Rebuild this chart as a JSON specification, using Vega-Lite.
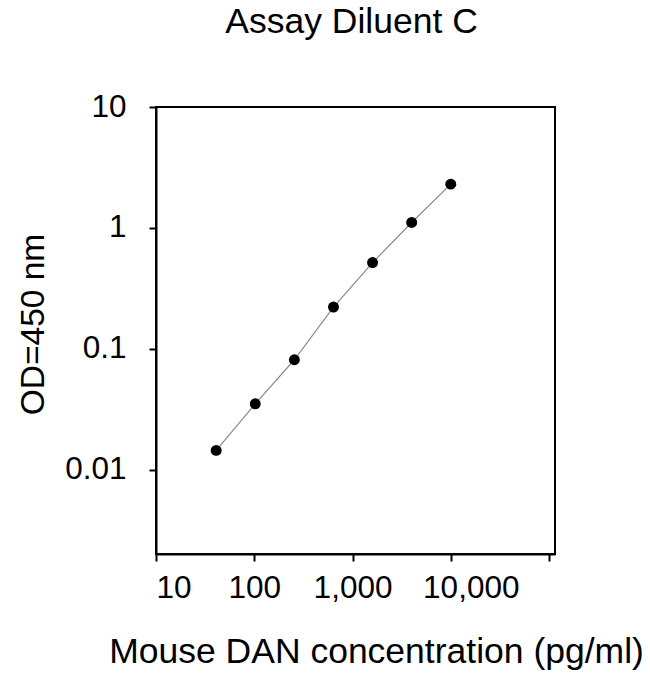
{
  "$schema": "https://vega.github.io/schema/vega-lite/v6.json",
  "autosize": {"type": "none"},
  "padding": {"left": 156, "top": 107, "right": 95, "bottom": 120},
  "width": 399,
  "height": 447,
  "title": {
    "text": "Assay Diluent C",
    "font": "Liberation Sans",
    "fontSize": 35.5,
    "fontWeight": "normal",
    "color": "#000000",
    "baseline": "alphabetic",
    "anchor": "middle",
    "dx": -4,
    "offset": 23
  },
  "data": {
    "values": [
      {"conc": 40.96, "od": 0.0144},
      {"conc": 102.4, "od": 0.035},
      {"conc": 256, "od": 0.081},
      {"conc": 640, "od": 0.221},
      {"conc": 1600, "od": 0.516},
      {"conc": 4000, "od": 1.108},
      {"conc": 10000, "od": 2.30}
    ]
  },
  "encoding": {
    "x": {
      "field": "conc",
      "type": "quantitative",
      "scale": {"type": "log", "domain": [10, 115000], "nice": false},
      "axis": {
        "title": "Mouse DAN concentration (pg/ml)",
        "values": [10, 100, 1000, 10000, 100000],
        "labelExpr": "datum.value >= 100000 ? '' : format(datum.value, ',')",
        "labelAlign": {"condition": {"test": "datum.value == 10", "value": "left"}, "value": "center"},
        "labelOffset": {"condition": {"test": "datum.value == 10000", "value": 20}, "value": 0},
        "labelPadding": 11,
        "titleX": 220,
        "titleY": 108,
        "titleBaseline": "alphabetic",
        "titleFontSize": 35.5
      }
    },
    "y": {
      "field": "od",
      "type": "quantitative",
      "scale": {"type": "log", "domain": [0.002, 10], "nice": false},
      "axis": {
        "title": "OD=450 nm",
        "values": [0.01, 0.1, 1, 10],
        "labelExpr": "'' + datum.value",
        "labelPadding": 23,
        "titleX": -113,
        "titleY": 217,
        "titleAngle": -90,
        "titleBaseline": "alphabetic",
        "titleFontSize": 33.5
      }
    }
  },
  "layer": [
    {
      "mark": {"type": "line", "color": "#8a8a8a", "strokeWidth": 1.2}
    },
    {
      "mark": {"type": "point", "filled": true, "color": "#000000", "opacity": 1, "size": 120}
    }
  ],
  "config": {
    "view": {"stroke": "#000000", "strokeWidth": 2},
    "axis": {
      "grid": false,
      "domainColor": "#000000",
      "domainWidth": 2,
      "tickColor": "#000000",
      "tickWidth": 2,
      "tickSize": 7,
      "labelFont": "Liberation Sans",
      "labelFontSize": 31.5,
      "labelColor": "#000000",
      "labelFlush": false,
      "labelOverlap": false,
      "titleFont": "Liberation Sans",
      "titleFontWeight": "normal",
      "titleColor": "#000000"
    }
  }
}
